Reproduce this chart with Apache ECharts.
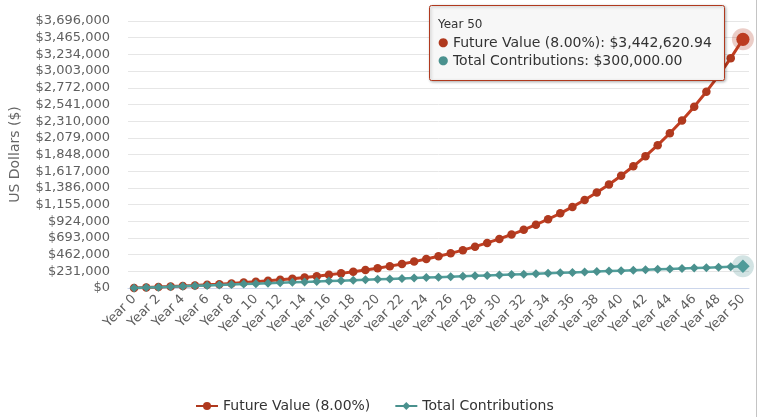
<!DOCTYPE html>
<html><head><meta charset="utf-8">
<script src="https://cdn.jsdelivr.net/npm/echarts@6/dist/echarts.min.js"></script>
<style>html,body{margin:0;padding:0;background:#fff;font-family:'DejaVu Sans'}#c{width:759px;height:417px}</style>
</head><body><div id="c"></div>
<script>
const categories = ["Year 0","Year 1","Year 2","Year 3","Year 4","Year 5","Year 6","Year 7","Year 8","Year 9","Year 10",
"Year 11","Year 12","Year 13","Year 14","Year 15","Year 16","Year 17","Year 18","Year 19","Year 20",
"Year 21","Year 22","Year 23","Year 24","Year 25","Year 26","Year 27","Year 28","Year 29","Year 30",
"Year 31","Year 32","Year 33","Year 34","Year 35","Year 36","Year 37","Year 38","Year 39","Year 40",
"Year 41","Year 42","Year 43","Year 44","Year 45","Year 46","Year 47","Year 48","Year 49","Year 50"];
const futureValue = [0, 6000, 12480, 19478.40, 27036.67, 35199.61, 44015.57, 53536.82, 63819.77, 74925.35, 86919.37,
99872.92, 113862.76, 128971.78, 145289.52, 162912.68, 181945.70, 202501.35, 224701.46, 248677.58, 274571.79,
302537.53, 332740.53, 365359.77, 400588.56, 438635.64, 479726.49, 524104.61, 572032.98, 623795.62, 679699.27,
740075.21, 805281.22, 875703.72, 951760.02, 1033900.82, 1122612.89, 1218421.92, 1321895.67, 1433647.33, 1554339.11,
1684686.24, 1825461.14, 1977498.03, 2141697.87, 2319033.70, 2510556.40, 2717400.91, 2940792.99, 3182056.42, 3442620.94];
const contributions = [0, 6000, 12000, 18000, 24000, 30000, 36000, 42000, 48000, 54000, 60000,
66000, 72000, 78000, 84000, 90000, 96000, 102000, 108000, 114000, 120000,
126000, 132000, 138000, 144000, 150000, 156000, 162000, 168000, 174000, 180000,
186000, 192000, 198000, 204000, 210000, 216000, 222000, 228000, 234000, 240000,
246000, 252000, 258000, 264000, 270000, 276000, 282000, 288000, 294000, 300000];
const seriesNames = ["Future Value (8.00%)", "Total Contributions"];
const yAxisMin = 0;
const yAxisMax = 3696000;
const yAxisStep = 231000;
const hoverIndex = 50;

const RED = '#b0391e', TEAL = '#4a918e';
const FONT = 'DejaVu Sans';
function money(v, d) {
  return '$' + v.toLocaleString('en-US', {minimumFractionDigits: d, maximumFractionDigits: d});
}

const richStyles = {
  l: {fontSize: 14, fill: '#333', fontFamily: FONT},
  r: {fontSize: 12, fill: RED, fontFamily: FONT},
  g: {fontSize: 12, fill: TEAL, fontFamily: FONT}
};

const chart = echarts.init(document.getElementById('c'));
chart.setOption({
  animation: false,
  textStyle: {fontFamily: FONT},
  grid: {left: 126, right: 10, top: 21, bottom: 129, containLabel: false},
  graphic: [
    {type: 'line', shape: {x1: 756.5, y1: 0, x2: 756.5, y2: 417}, style: {stroke: '#c4c4c4', lineWidth: 1}, silent: true},
    {
      type: 'group', x: 429, y: 5, z: 100, silent: true,
      children: [
        {type: 'rect', z: 100, shape: {x: 0.5, y: 0.5, width: 295, height: 75, r: 2},
         style: {fill: '#f7f7f7', stroke: RED, lineWidth: 1,
                 shadowBlur: 3, shadowColor: 'rgba(0,0,0,0.3)', shadowOffsetX: 1, shadowOffsetY: 1}},
        {type: 'text', z: 101, x: 9, y: 20,
         style: {text: categories[hoverIndex], fill: '#333', fontFamily: FONT, fontSize: 12, verticalAlign: 'middle', align: 'left'}},
        {type: 'text', z: 101, x: 9, y: 38,
         style: {text: '{r|\u25CF} {l|' + seriesNames[0] + ': ' + money(futureValue[hoverIndex], 2) + '}',
                 fill: '#333', fontFamily: FONT, fontSize: 14, verticalAlign: 'middle', align: 'left', rich: richStyles}},
        {type: 'text', z: 101, x: 9, y: 56,
         style: {text: '{g|\u25CF} {l|' + seriesNames[1] + ': ' + money(contributions[hoverIndex], 2) + '}',
                 fill: '#333', fontFamily: FONT, fontSize: 14, verticalAlign: 'middle', align: 'left', rich: richStyles}}
      ]
    }
  ],
  legend: {
    top: 399,
    left: 195,
    padding: 0,
    itemWidth: 22,
    itemHeight: 10,
    itemGap: 24,
    textStyle: {fontSize: 14, color: '#333', fontFamily: FONT},
    data: seriesNames
  },
  xAxis: {
    type: 'category',
    data: categories,
    boundaryGap: true,
    axisLine: {lineStyle: {color: '#ccd6eb'}},
    axisTick: {alignWithLabel: true, interval: 1, length: 9, lineStyle: {color: '#ccd6eb'}},
    axisLabel: {interval: 1, rotate: 45, color: '#5f5f5f', fontSize: 13, margin: 9, fontFamily: FONT}
  },
  yAxis: {
    type: 'value',
    min: yAxisMin, max: yAxisMax, interval: yAxisStep,
    name: 'US Dollars ($)',
    nameLocation: 'middle',
    nameGap: 106,
    nameTextStyle: {color: '#666', fontSize: 14, fontFamily: FONT},
    axisLine: {show: false},
    axisTick: {show: false},
    splitLine: {lineStyle: {color: '#e6e6e6'}},
    axisLabel: {color: '#5f5f5f', fontSize: 13, margin: 18, fontFamily: FONT, formatter: v => money(v, 0)}
  },
  series: [
    {
      name: seriesNames[0], type: 'line', data: futureValue,
      symbol: 'circle', symbolSize: 8.5, showAllSymbol: true,
      lineStyle: {color: RED, width: 3}, itemStyle: {color: RED},
      emphasis: {scale: 1.55, focus: 'none', lineStyle: {width: 3}},
      z: 2,
      markPoint: {
        symbol: 'circle', symbolSize: 22, silent: true, label: {show: false},
        itemStyle: {color: 'rgba(176,57,30,0.25)'},
        data: [{coord: [categories[hoverIndex], futureValue[hoverIndex]]}]
      }
    },
    {
      name: seriesNames[1], type: 'line', data: contributions,
      symbol: 'diamond', symbolSize: 9, showAllSymbol: true,
      lineStyle: {color: TEAL, width: 2.5}, itemStyle: {color: TEAL},
      emphasis: {scale: 1.5, focus: 'none', lineStyle: {width: 2.5}},
      z: 3,
      markPoint: {
        symbol: 'circle', symbolSize: 22, silent: true, label: {show: false},
        itemStyle: {color: 'rgba(74,145,142,0.25)'},
        data: [{coord: [categories[hoverIndex], contributions[hoverIndex]]}]
      }
    }
  ]
});
chart.dispatchAction({type: 'highlight', seriesIndex: [0, 1], dataIndex: hoverIndex});
</script>
</body></html>
